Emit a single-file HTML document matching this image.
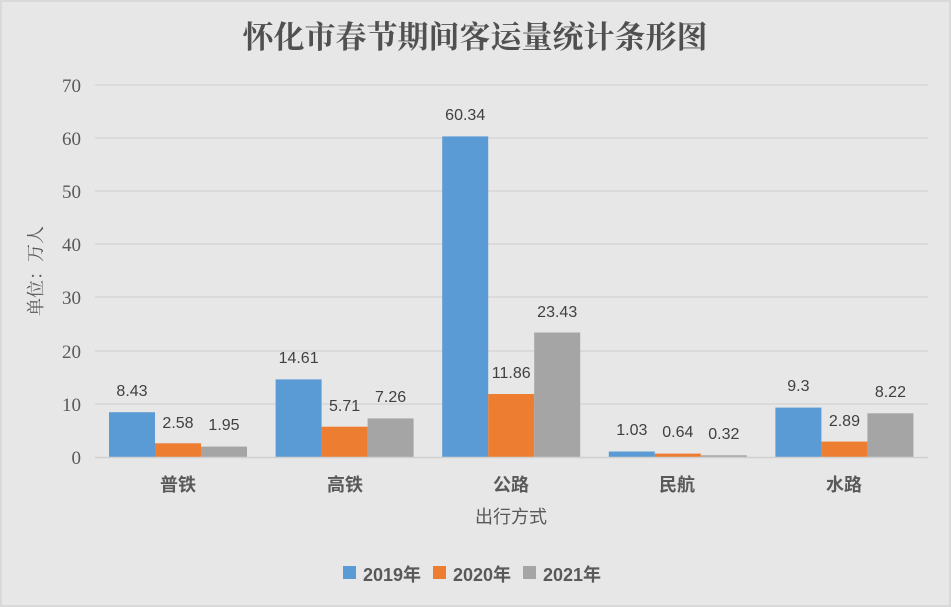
<!DOCTYPE html>
<html><head><meta charset="utf-8"><style>
html,body{margin:0;padding:0;background:#e7e7e7}
svg{display:block}
</style></head><body>
<svg width="951" height="607" xmlns="http://www.w3.org/2000/svg" font-family="'Liberation Sans','Noto Sans CJK SC',sans-serif">
<rect x="0" y="0" width="951" height="607" fill="#e7e7e7"/>
<rect x="1" y="1" width="949" height="605" fill="none" stroke="#d9d9d9" stroke-width="2"/>
<text x="475" y="48" text-anchor="middle" font-family="'Liberation Serif','Noto Serif CJK SC',serif" font-weight="bold" font-size="31" fill="#505050">怀化市春节期间客运量统计条形图</text>
<g stroke="#d5d5d5" stroke-width="1.5">
<line x1="95" y1="85" x2="928" y2="85"/><line x1="95" y1="138" x2="928" y2="138"/>
<line x1="95" y1="191" x2="928" y2="191"/><line x1="95" y1="244" x2="928" y2="244"/>
<line x1="95" y1="297" x2="928" y2="297"/><line x1="95" y1="351" x2="928" y2="351"/>
<line x1="95" y1="404" x2="928" y2="404"/>
</g>
<g font-family="'Liberation Serif',serif" font-size="19" fill="#595959" text-anchor="end">
<text x="81" y="92">70</text><text x="81" y="145">60</text><text x="81" y="198">50</text>
<text x="81" y="251">40</text><text x="81" y="304">30</text><text x="81" y="358">20</text>
<text x="81" y="411">10</text><text x="81" y="464">0</text>
</g>
<text transform="translate(42,271) rotate(-90)" text-anchor="middle" font-family="'Liberation Serif','Noto Serif CJK SC',serif" font-size="18" fill="#595959">单位：万人</text>
<g>
<rect x="109" y="412.2" width="46" height="44.8" fill="#5b9bd5"/>
<rect x="155" y="443.3" width="46" height="13.7" fill="#ed7d31"/>
<rect x="201" y="446.6" width="46" height="10.4" fill="#a5a5a5"/>
<rect x="275.6" y="379.4" width="46" height="77.6" fill="#5b9bd5"/>
<rect x="321.6" y="426.7" width="46" height="30.3" fill="#ed7d31"/>
<rect x="367.6" y="418.4" width="46" height="38.6" fill="#a5a5a5"/>
<rect x="442.2" y="136.4" width="46" height="320.6" fill="#5b9bd5"/>
<rect x="488.2" y="394" width="46" height="63" fill="#ed7d31"/>
<rect x="534.2" y="332.5" width="46" height="124.5" fill="#a5a5a5"/>
<rect x="608.8" y="451.5" width="46" height="5.5" fill="#5b9bd5"/>
<rect x="654.8" y="453.6" width="46" height="3.4" fill="#ed7d31"/>
<rect x="700.8" y="455.3" width="46" height="1.7" fill="#a5a5a5"/>
<rect x="775.4" y="407.6" width="46" height="49.4" fill="#5b9bd5"/>
<rect x="821.4" y="441.6" width="46" height="15.4" fill="#ed7d31"/>
<rect x="867.4" y="413.3" width="46" height="43.7" fill="#a5a5a5"/>
</g>
<g font-size="16" fill="#404040" text-anchor="middle">
<text x="132" y="396">8.43</text><text x="178" y="428">2.58</text><text x="224" y="430">1.95</text>
<text x="298.6" y="363">14.61</text><text x="344.6" y="411">5.71</text><text x="390.6" y="402">7.26</text>
<text x="465.2" y="120">60.34</text><text x="511.2" y="378">11.86</text><text x="557.2" y="317">23.43</text>
<text x="631.8" y="435">1.03</text><text x="677.8" y="437">0.64</text><text x="723.8" y="439">0.32</text>
<text x="798.4" y="391">9.3</text><text x="844.4" y="426">2.89</text><text x="890.4" y="397">8.22</text>
</g>
<line x1="95" y1="457.5" x2="928" y2="457.5" stroke="#d0d0d0" stroke-width="1.5"/>
<g font-size="18" font-weight="bold" fill="#595959" text-anchor="middle">
<text x="178" y="491">普铁</text><text x="345" y="491">高铁</text><text x="511" y="491">公路</text>
<text x="677" y="491">民航</text><text x="844" y="491">水路</text>
</g>
<text x="511" y="523" text-anchor="middle" font-size="18" fill="#595959">出行方式</text>
<g font-size="18" font-weight="bold" fill="#595959">
<rect x="343" y="566" width="13" height="13" fill="#5b9bd5"/><text x="363" y="581">2019年</text>
<rect x="433" y="566" width="13" height="13" fill="#ed7d31"/><text x="453" y="581">2020年</text>
<rect x="523" y="566" width="13" height="13" fill="#a5a5a5"/><text x="543" y="581">2021年</text>
</g>
</svg>
</body></html>
